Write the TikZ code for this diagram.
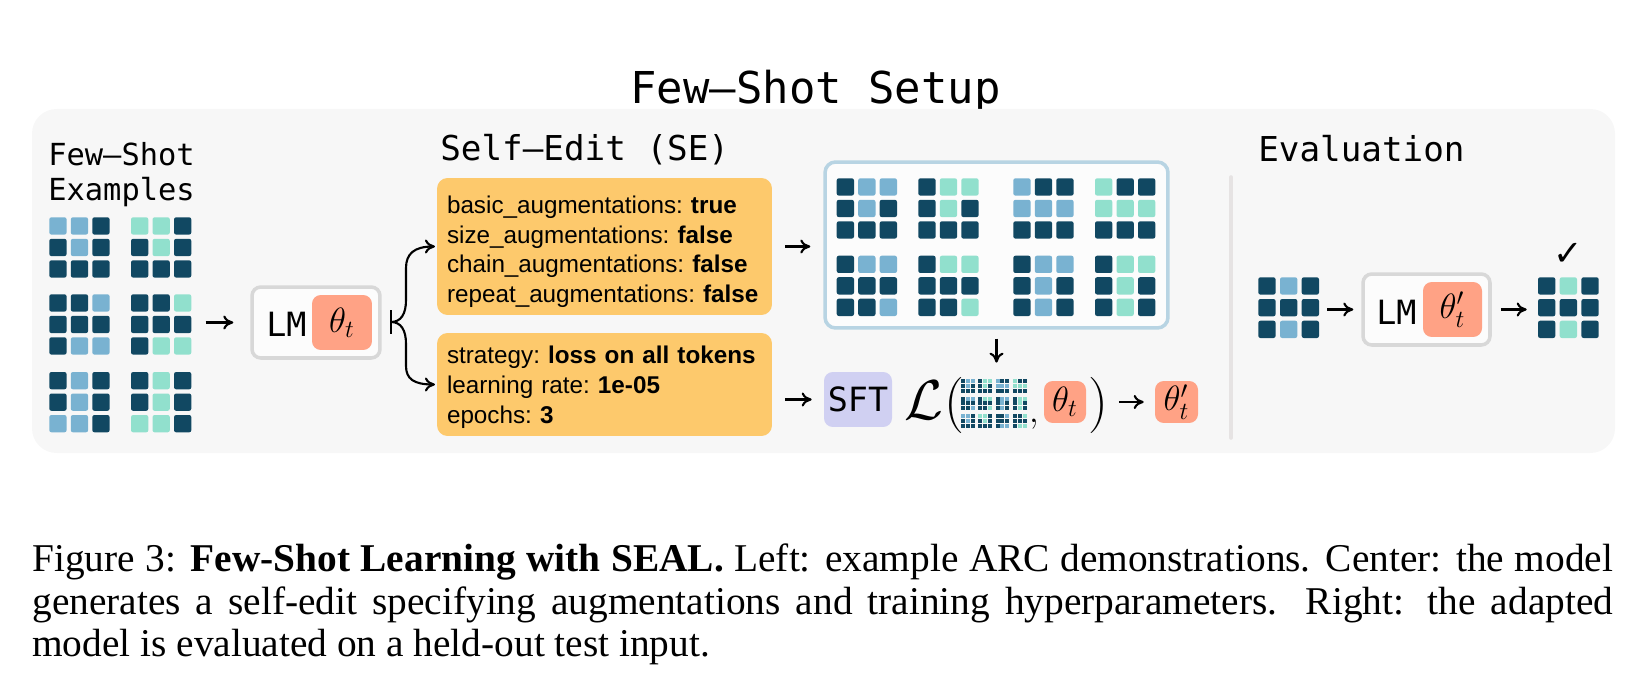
\RequirePackage{fix-cm}
\documentclass[tikz,border=0pt]{standalone}
\usepackage[no-math]{fontspec}
\setmainfont{Liberation Serif}
\setsansfont{Liberation Sans}
\setmonofont{DejaVu Sans Mono}
\newfontfamily\checkfont{DejaVu Sans}
\usetikzlibrary{positioning,arrows.meta,fit}

\definecolor{gd}{RGB}{17,72,98}
\definecolor{gb}{RGB}{121,178,209}
\definecolor{gm}{RGB}{145,224,205}
\definecolor{panel}{RGB}{247,247,247}
\definecolor{boxgray}{RGB}{216,216,216}
\definecolor{salmon}{RGB}{255,162,133}
\definecolor{augyellow}{RGB}{253,201,108}
\definecolor{sftpurple}{RGB}{208,208,242}
\definecolor{augborder}{RGB}{184,212,227}
\definecolor{sepgray}{RGB}{230,227,227}

% cell colours of the 3x3 grids, row by row
\def\shotA{gb,gb,gd,gd,gb,gd,gd,gd,gd}
\def\shotB{gm,gm,gd,gd,gm,gd,gd,gd,gd}
\def\shotC{gd,gd,gb,gd,gd,gd,gd,gb,gb}
\def\shotD{gd,gd,gm,gd,gd,gd,gd,gm,gm}
\def\shotE{gd,gb,gd,gd,gb,gd,gb,gb,gd}
\def\shotF{gd,gm,gd,gd,gm,gd,gm,gm,gd}
\def\augA{gd,gb,gb,gd,gb,gd,gd,gd,gd}
\def\augB{gd,gm,gm,gd,gm,gd,gd,gd,gd}
\def\augC{gb,gd,gd,gb,gb,gb,gd,gd,gd}
\def\augD{gm,gd,gd,gm,gm,gm,gd,gd,gd}
\def\augE{gd,gb,gb,gd,gd,gd,gd,gd,gb}
\def\augF{gd,gm,gm,gd,gd,gd,gd,gd,gm}
\def\augG{gd,gb,gb,gd,gb,gd,gd,gb,gd}
\def\augH{gd,gm,gm,gd,gm,gd,gd,gm,gd}
\def\evalIn{gd,gb,gd,gd,gd,gd,gd,gb,gd}
\def\evalOut{gd,gm,gd,gd,gd,gd,gd,gm,gd}

% top-left x, top-left y, cell size, pitch, pattern
\newcommand{\arcgrid}[5]{%
  \foreach \cc [count=\idx from 0] in #5 {
    \pgfmathtruncatemacro{\cellc}{mod(\idx,3)}
    \pgfmathtruncatemacro{\cellr}{div(\idx,3)}
    \fill[cell,\cc] ({#1+\cellc*#4},{#2+\cellr*#4}) rectangle ++(#3,#3);
  }}

\begin{document}
\begin{tikzpicture}[
		x=0.02cm, y=-0.02cm,
		every node/.style={inner sep=0pt},
		cell/.style={rounded corners=1.2pt},
		arr/.style={-{Computer Modern Rightarrow[length=2mm,width=2.8mm]}, line width=1.2pt},
		heading/.style={font=\ttfamily\fontsize{19.5}{22}\selectfont},
		lmbox/.style={draw=boxgray, line width=2pt, fill=white!60!panel,
			rounded corners=5pt, minimum width=2.56cm, minimum height=1.42cm},
		lmlabel/.style={font=\ttfamily\fontsize{19}{22}\selectfont},
		thetabox/.style={fill=salmon, rounded corners=5pt, font=\fontsize{20}{20}\selectfont},
		yellowbox/.style={fill=augyellow, rounded corners=6pt, text width=6.3cm,
			inner xsep=0.2cm, align=left, font=\sffamily\fontsize{13.8}{17}\selectfont\frenchspacing},
		bigmath/.style={font=\fontsize{32}{32}\selectfont}
		]
		
		\useasboundingbox (0,0) rectangle (1626,682);
		
		\node[font=\ttfamily\fontsize{25}{28}\selectfont, anchor=base] (title)
		at (815.5,104) {Few–Shot Setup};
		
		\fill[panel, rounded corners=14pt] (32,109) rectangle (1615,453);
		
		% few-shot examples
		\node[font=\ttfamily\fontsize{17.3}{19.9}\selectfont, align=left, anchor=north west]
		(shotlabel) at (48,142) {Few–Shot\\Examples};
		
		\arcgrid{49.3}{217.3}{17.3}{21.5}{\shotA}
		\arcgrid{131}{217.3}{17.3}{21.5}{\shotB}
		\arcgrid{49.3}{294.3}{17.3}{21.5}{\shotC}
		\arcgrid{131}{294.3}{17.3}{21.5}{\shotD}
		\arcgrid{49.3}{372}{17.3}{21.5}{\shotE}
		\arcgrid{131}{372}{17.3}{21.5}{\shotF}
		\node[fit={(49.3,217.3)(191.3,432.3)}] (shots) {};
		
		\node[lmbox] (lm) at (316,322.5) {};
		\node[lmlabel, anchor=base west] (lmtext) at (266,337) {LM};
		\node[thetabox, minimum width=1.2cm, minimum height=1.1cm] (theta)
		at (342,322.5) {$\theta_t$};
		
		\draw[arr, shorten <=0.28cm, shorten >=0.34cm] (shots.east |- lm.west) -- (lm.west);
		
		% self-edit
		\node[heading, anchor=base west] (selabel) at (440,161) {Self–Edit (SE)};
		
		\node[yellowbox, minimum height=2.74cm] (aug) at (604.5,246.5)
		{\rule{0pt}{16pt}basic\_augmentations: \textbf{true}\\
			size\_augmentations: \textbf{false}\\
			chain\_augmentations: \textbf{false}\\
			repeat\_augmentations: \textbf{false}};
		
		\node[yellowbox, minimum height=2.06cm] (train) at (604.5,384.5)
		{\rule{0pt}{13.5pt}strategy: \textbf{loss on all tokens}\\
			learning rate: \textbf{1e-05}\\
			epochs: \textbf{3}};
		
		\coordinate (fork) at (391,322);
		\draw[line width=1.2pt] (fork) ++(0,-12) -- ++(0,24);
		\draw[arr, shorten >=1pt] (fork) .. controls (401,322) and (406,314) .. (406,300)
		-- (406,268) .. controls (406,254) and (414,246.5) .. (aug.west);
		\draw[arr, shorten >=1pt] (fork) .. controls (401,322) and (406,330) .. (406,344)
		-- (406,366) .. controls (406,379) and (414,384.5) .. (train.west);
		
		% augmented examples
		\node[draw=augborder, line width=2pt, fill=white!60!panel, rounded corners=6pt,
		minimum width=6.86cm, minimum height=3.32cm] (augset) at (996.5,245) {};
		
		\arcgrid{836.7}{178.3}{17.3}{21.5}{\augA}
		\arcgrid{918.3}{178.3}{17.3}{21.5}{\augB}
		\arcgrid{1013.3}{178.3}{17.3}{21.5}{\augC}
		\arcgrid{1095}{178.3}{17.3}{21.5}{\augD}
		\arcgrid{836.7}{255.7}{17.3}{21.5}{\augE}
		\arcgrid{918.3}{255.7}{17.3}{21.5}{\augF}
		\arcgrid{1013.3}{255.7}{17.3}{21.5}{\augG}
		\arcgrid{1095}{255.7}{17.3}{21.5}{\augH}
		
		\draw[arr, shorten <=0.26cm, shorten >=0.26cm] (aug.east) -- (aug.east -| augset.west);
		
		% training step
		\node[fill=sftpurple, rounded corners=5pt, minimum width=1.36cm, minimum height=1.1cm,
		font=\ttfamily\fontsize{19}{22}\selectfont] (sft) at (858,399.5) {SFT};
		\draw[arr, shorten <=0.26cm, shorten >=0.24cm] (train.east |- sft.west) -- (sft.west);
		
		\node[bigmath] (lcal) at (923.5,400) {$\mathcal{L}$};
		\node[bigmath] (lparen) at (954,405) {$($};
		\begin{scope}[cell/.style={}]
			\arcgrid{961}{379}{4}{4.8}{\augA}
			\arcgrid{978.3}{379}{4}{4.8}{\augB}
			\arcgrid{995.6}{379}{4}{4.8}{\augC}
			\arcgrid{1013}{379}{4}{4.8}{\augD}
			\arcgrid{961}{396.5}{4}{4.8}{\augE}
			\arcgrid{978.3}{396.5}{4}{4.8}{\augF}
			\arcgrid{995.6}{396.5}{4}{4.8}{\augG}
			\arcgrid{1013}{396.5}{4}{4.8}{\augH}
			\arcgrid{961}{414}{4}{4.8}{\shotA}
			\arcgrid{978.3}{414}{4}{4.8}{\shotB}
			\arcgrid{995.6}{414}{4}{4.8}{\shotC}
			\arcgrid{1013}{414}{4}{4.8}{\shotD}
		\end{scope}
		\node[fit={(961,379)(1026.6,427.6)}] (lossgrid) {};
		\node[font=\fontsize{20}{20}\selectfont] (comma) at (1034,424) {$,$};
		\node[thetabox, minimum width=0.84cm, minimum height=0.84cm] (losstheta)
		at (1065,402) {$\theta_t$};
		\node[bigmath] (rparen) at (1098.5,405) {$)$};
		\node[thetabox, minimum width=0.86cm, minimum height=0.84cm] (thetanew)
		at (1176.5,402) {$\theta'_t$};
		
		\draw[arr, shorten <=0.18cm, shorten >=0.32cm] (augset.south) -- (augset.south |- lossgrid.north);
		\draw[arr, shorten <=0.2cm, shorten >=0.22cm] (rparen.east |- thetanew.west) -- (thetanew.west);
		
		% evaluation
		\draw[sepgray, line width=2pt, line cap=round] (1231,177) -- (1231,438);
		\node[heading, anchor=base west] (evallabel) at (1258,162) {Evaluation};
		
		\arcgrid{1258.3}{277.3}{17.3}{21.7}{\evalIn}
		\node[fit={(1258.3,277.3)(1318.7,337.7)}] (evalin) {};
		
		\node[lmbox, minimum width=2.54cm] (lm2) at (1426.5,309.5) {};
		\node[lmlabel, anchor=base west] (lm2text) at (1376,324) {LM};
		\node[thetabox, minimum width=1.18cm, minimum height=1.1cm] (theta2)
		at (1452.5,309.5) {$\theta'_t$};
		
		\arcgrid{1538}{277.3}{17.3}{21.7}{\evalOut}
		\node[fit={(1538,277.3)(1598.4,337.7)}] (evalout) {};
		\node[font={\checkfont\bfseries\fontsize{20}{20}\selectfont}] (check) at (1568,254) {✓};
		
		\draw[arr, shorten <=0.16cm, shorten >=0.16cm] (evalin.east |- lm2.west) -- (lm2.west);
		\draw[arr, shorten <=0.18cm, shorten >=0.22cm] (lm2.east) -- (lm2.east -| evalout.west);
		
		% caption
		\node[anchor=north west, text width=31.62cm, align=justify,
		font=\fontsize{22.4}{24.2}\selectfont] (caption) at (32,543.5)
		{Figure 3: \textbf{Few-Shot Learning with SEAL.} Left: example ARC demonstrations. Center: the model\linebreak
			generates a self-edit specifying augmentations and training hyperparameters. Right: the adapted\linebreak
			model is evaluated on a held-out test input.};
		
	\end{tikzpicture}
\end{document}
